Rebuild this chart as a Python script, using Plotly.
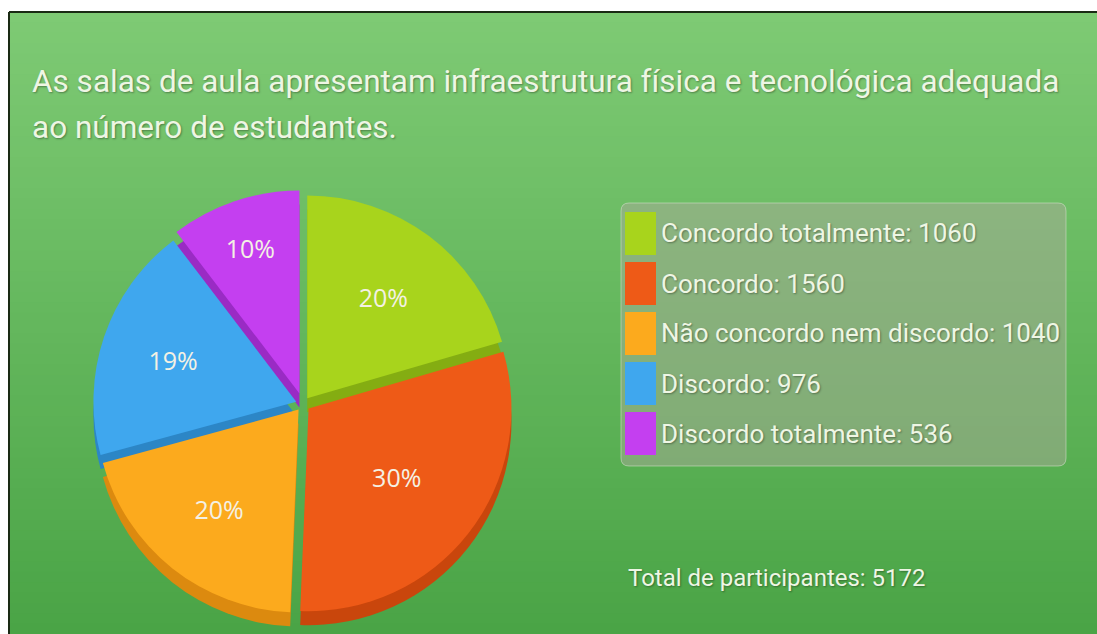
import plotly.graph_objects as go

W, H = 1097, 634

title_lines = ["As salas de aula apresentam infraestrutura física e tecnológica adequada",
               "ao número de estudantes."]
categories = ["Concordo totalmente", "Concordo", "Não concordo nem discordo",
              "Discordo", "Discordo totalmente"]
values = [1060, 1560, 1040, 976, 536]
total_participants = 5172

colors = ["#a8d41c", "#ee5a17", "#fcaa1d", "#3fa7ee", "#c43ff0"]
dark_colors = ["#84ad12", "#c9460c", "#dc8a0f", "#2c86c6", "#9a2bc4"]

FONT = "Roboto, Liberation Sans, sans-serif"
TXT = "#eef6e4"
SHADOW = "1px 1px 2px rgba(0,0,0,0.35)"


def px(x):
    return x / W


def py(y):
    return 1 - y / H


fig = go.Figure()

# pie geometry (pixels)
cx, cy, r = 303, 404, 214
depth = 14
pulls = [0.035, 0.035, 0.035, 0.035, 0.055]

# depth layer (3D side)
fig.add_trace(go.Pie(
    labels=categories, values=values, sort=False, direction="clockwise", rotation=0,
    pull=pulls, marker=dict(colors=dark_colors, line=dict(width=0)),
    textinfo="none", hoverinfo="skip", showlegend=False,
    domain=dict(x=[px(cx - r), px(cx + r)], y=[py(cy + r + depth), py(cy - r + depth)]),
))
# top layer
fig.add_trace(go.Pie(
    labels=categories, values=values, sort=False, direction="clockwise", rotation=0,
    pull=pulls, marker=dict(colors=colors, line=dict(width=0)),
    texttemplate="%{percent:.0%}", textposition="inside", insidetextorientation="horizontal",
    textfont=dict(family="Open Sans, Lato, sans-serif", size=25, color="#f4f1e4"),
    showlegend=False,
    domain=dict(x=[px(cx - r), px(cx + r)], y=[py(cy + r), py(cy - r)]),
))

shapes = []
# gradient background
top_c = (126, 202, 116)
bot_c = (74, 164, 70)
x_left, y_top = 9, 12
n = 60
for i in range(n):
    t = i / (n - 1)
    c = tuple(int(round(top_c[k] + (bot_c[k] - top_c[k]) * t)) for k in range(3))
    y0 = y_top + (H - y_top) * i / n
    y1 = y_top + (H - y_top) * (i + 1) / n + 1
    shapes.append(dict(type="rect", xref="paper", yref="paper", layer="below",
                       x0=px(x_left), x1=1, y0=py(y1), y1=py(y0),
                       fillcolor="rgb(%d,%d,%d)" % c, line=dict(width=0)))
# dark frame lines (top and left)
shapes.append(dict(type="line", xref="paper", yref="paper", layer="below",
                   x0=px(x_left), x1=1, y0=py(y_top), y1=py(y_top),
                   line=dict(color="#1a2a14", width=2)))
shapes.append(dict(type="line", xref="paper", yref="paper", layer="below",
                   x0=px(x_left), x1=px(x_left), y0=0, y1=py(y_top),
                   line=dict(color="#1a2a14", width=2)))

# legend box (rounded rect)
lx0, ly0, lx1, ly1, rr = 621, 203, 1066, 466, 8
path = (f"M {px(lx0 + rr)},{py(ly0)} L {px(lx1 - rr)},{py(ly0)} "
        f"Q {px(lx1)},{py(ly0)} {px(lx1)},{py(ly0 + rr)} "
        f"L {px(lx1)},{py(ly1 - rr)} Q {px(lx1)},{py(ly1)} {px(lx1 - rr)},{py(ly1)} "
        f"L {px(lx0 + rr)},{py(ly1)} Q {px(lx0)},{py(ly1)} {px(lx0)},{py(ly1 - rr)} "
        f"L {px(lx0)},{py(ly0 + rr)} Q {px(lx0)},{py(ly0)} {px(lx0 + rr)},{py(ly0)} Z")
shapes.append(dict(type="path", xref="paper", yref="paper", layer="below", path=path,
                   fillcolor="rgba(178,168,160,0.45)",
                   line=dict(color="rgba(215,225,205,0.55)", width=1)))

annotations = []
row_top, row_h, sw_h = 212, 50, 43
for i, (cat, val, col) in enumerate(zip(categories, values, colors)):
    y0 = row_top + i * row_h
    shapes.append(dict(type="rect", xref="paper", yref="paper",
                       x0=px(625), x1=px(656), y0=py(y0 + sw_h), y1=py(y0),
                       fillcolor=col, line=dict(width=0)))
    annotations.append(dict(xref="paper", yref="paper", x=px(659), y=py(y0 + sw_h / 2),
                            xanchor="left", yanchor="middle", showarrow=False,
                            text=f"{cat}: {val}",
                            font=dict(family=FONT, size=26, color=TXT, shadow=SHADOW)))

for j, line in enumerate(title_lines):
    annotations.append(dict(xref="paper", yref="paper", x=px(30), y=py(82 + 46 * j),
                            xanchor="left", yanchor="middle", showarrow=False, align="left",
                            text=line,
                            font=dict(family=FONT, size=31.5, color=TXT, shadow=SHADOW)))
annotations.append(dict(xref="paper", yref="paper", x=px(626), y=py(578),
                        xanchor="left", yanchor="middle", showarrow=False,
                        text=f"Total de participantes: {total_participants}",
                        font=dict(family=FONT, size=24, color=TXT, shadow=SHADOW)))

fig.update_layout(width=W, height=H, margin=dict(l=0, r=0, t=0, b=0),
                  paper_bgcolor="white", plot_bgcolor="white",
                  shapes=shapes, annotations=annotations, showlegend=False)

fig.write_html("out.html", config={"displayModeBar": False},
               post_script="document.body.style.margin='0';")
